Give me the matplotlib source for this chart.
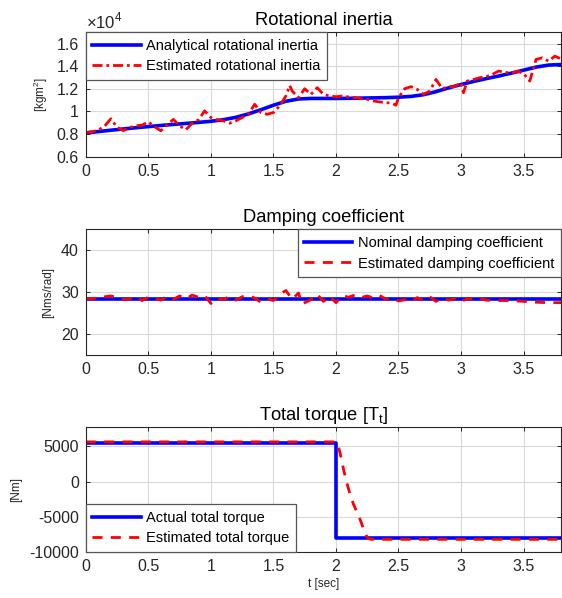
import matplotlib
matplotlib.use('Agg')
import matplotlib.pyplot as plt

plt.rcParams['font.family'] = ['Liberation Sans', 'DejaVu Sans']
plt.rcParams['mathtext.fontset'] = 'custom'
plt.rcParams['mathtext.rm'] = 'Liberation Sans'
plt.rcParams['axes.unicode_minus'] = False

# ---- data ----
# rotational inertia
t_J = [0.0, 0.1, 0.2, 0.3, 0.4, 0.5, 0.6, 0.7, 0.8, 0.9, 1.0, 1.1, 1.2, 1.3,
       1.4, 1.5, 1.6, 1.7, 1.8, 1.9, 2.0, 2.1, 2.2, 2.3, 2.4, 2.5, 2.6, 2.7,
       2.8, 2.9, 3.0, 3.1, 3.2, 3.3, 3.4, 3.5, 3.6, 3.7, 3.8]
J_analytical = [8100, 8220, 8340, 8450, 8560, 8660, 8760, 8850, 8940, 9030,
                9130, 9270, 9480, 9780, 10150, 10550, 10900, 11100, 11150,
                11150, 11150, 11160, 11180, 11200, 11220, 11260, 11330, 11480,
                11750, 12080, 12380, 12650, 12900, 13130, 13380, 13650, 13920,
                14100, 14150]

t_J_est = [0.00, 0.05, 0.10, 0.15, 0.20, 0.25, 0.30, 0.35, 0.40, 0.45, 0.50,
           0.55, 0.60, 0.65, 0.70, 0.75, 0.80, 0.85, 0.90, 0.95, 1.00, 1.05,
           1.10, 1.15, 1.20, 1.25, 1.30, 1.35, 1.40, 1.45, 1.50, 1.55, 1.60,
           1.63, 1.65, 1.70, 1.75, 1.80, 1.85, 1.90, 1.95, 2.00, 2.05, 2.10,
           2.15, 2.20, 2.25, 2.30, 2.35, 2.40, 2.45, 2.48, 2.50, 2.55, 2.60,
           2.65, 2.70, 2.75, 2.80, 2.85, 2.90, 2.95, 3.00, 3.02, 3.05, 3.10,
           3.15, 3.20, 3.25, 3.30, 3.35, 3.40, 3.45, 3.50, 3.55, 3.60, 3.65,
           3.70, 3.75, 3.80]
J_estimated = [8140, 8200, 8350, 8700, 9350, 8600, 8300, 8580, 8730, 8790,
               9080, 8640, 8290, 8790, 9300, 8730, 8380, 8960, 9250, 10050,
               9460, 9250, 9170, 8960, 9170, 9460, 9750, 10630, 9900, 9750,
               9900, 10490, 11370, 12300, 11800, 11220, 12010, 11510, 12100,
               11510, 11370, 11300, 11370, 11280, 11220, 11130, 11070, 10930,
               10840, 10780, 10720, 10550, 11220, 12010, 12190, 11950, 11510,
               11800, 12830, 12010, 12190, 12190, 12540, 11660, 12690, 12830,
               12980, 13070, 13270, 13570, 13480, 13360, 13570, 13360, 12690,
               14600, 14740, 14450, 14890, 14650]

# damping coefficient
t_B = [0.0, 3.8]
B_nominal = [28.4, 28.4]
t_B_est = [0.00, 0.05, 0.10, 0.15, 0.20, 0.25, 0.30, 0.35, 0.40, 0.45, 0.50,
           0.55, 0.60, 0.65, 0.70, 0.75, 0.80, 0.85, 0.90, 0.95, 1.00, 1.05,
           1.10, 1.15, 1.20, 1.25, 1.30, 1.35, 1.40, 1.45, 1.50, 1.55, 1.60,
           1.65, 1.70, 1.73, 1.80, 1.85, 1.90, 1.95, 2.00, 2.05, 2.10, 2.15,
           2.20, 2.25, 2.30, 2.35, 2.40, 2.45, 2.50, 2.55, 2.60, 2.65, 2.70,
           2.75, 2.80, 2.85, 2.90, 2.95, 3.00, 3.05, 3.10, 3.15, 3.20, 3.30,
           3.40, 3.50, 3.60, 3.70, 3.80]
B_estimated = [28.5, 28.5, 28.6, 28.9, 29.1, 28.7, 28.2, 28.4, 28.9, 28.0,
               28.8, 28.5, 28.1, 29.0, 28.3, 29.1, 28.4, 29.3, 28.8, 29.2,
               27.3, 28.6, 28.2, 29.0, 28.1, 28.9, 29.2, 28.6, 27.6, 28.4,
               28.0, 29.5, 30.4, 28.3, 29.8, 27.2, 28.2, 29.5, 27.8, 29.0,
               27.5, 29.2, 28.8, 29.3, 28.7, 29.1, 28.6, 29.2, 28.3, 28.6,
               27.9, 28.2, 27.8, 28.7, 28.0, 28.9, 27.8, 28.5, 28.1, 28.4,
               27.7, 28.5, 28.2, 28.6, 28.1, 28.0, 28.0, 27.8, 27.6, 27.5, 27.5]

# total torque
t_T = [0.0, 2.0, 2.0, 3.8]
T_actual = [5500, 5500, -8000, -8000]
t_T_est = [0.0, 2.00, 2.02, 2.04, 2.06, 2.08, 2.10, 2.12, 2.14, 2.16, 2.18,
           2.20, 2.22, 2.24, 2.26, 2.28, 3.8]
T_estimated = [5650, 5650, 5000, 3500, 1800, 300, -1000, -2200, -3200, -4000,
               -4800, -5700, -6700, -7600, -8100, -8200, -8200]

xticks = [0, 0.5, 1, 1.5, 2, 2.5, 3, 3.5]
xtick_labels = ['0', '0.5', '1', '1.5', '2', '2.5', '3', '3.5']

DARK = '#262626'
GRID = '#d9d9d9'
BLUE = (0, 0, 1)
RED = (1, 0, 0)


def style_axes(ax):
    ax.set_xlim(0, 3.8)
    ax.set_xticks(xticks)
    ax.set_xticklabels(xtick_labels)
    ax.grid(True, color=GRID, linewidth=0.8)
    ax.set_axisbelow(True)
    ax.tick_params(direction='in', length=3, width=0.7, colors=DARK,
                   labelsize=11.5, top=True, right=True, pad=5)
    for s in ax.spines.values():
        s.set_color(DARK)
        s.set_linewidth(0.8)


def style_legend(leg):
    fr = leg.get_frame()
    fr.set_edgecolor('#555555')
    fr.set_linewidth(0.9)
    fr.set_alpha(1)


fig = plt.figure(figsize=(5.62, 5.98), dpi=100)
left, width = 0.1527, 0.8456

# ---- rotational inertia ----
ax1 = fig.add_axes([left, 0.738, width, 0.208])
ax1.plot(t_J, J_analytical, color=BLUE, linewidth=2.6,
         label='Analytical rotational inertia')
ax1.plot(t_J_est, J_estimated, color=RED, linewidth=2.0,
         dashes=(3.6, 1.4, 1.0, 1.4), label='Estimated rotational inertia')
style_axes(ax1)
ax1.set_ylim(6000, 17000)
ax1.set_yticks([6000, 8000, 10000, 12000, 14000, 16000])
ax1.set_yticklabels(['0.6', '0.8', '1', '1.2', '1.4', '1.6'])
ax1.set_ylabel(r'[kgm$^\mathregular{2}$]', fontsize=8.5, color=DARK, labelpad=5)
ax1.set_title('Rotational inertia', fontsize=13.2, color='black', pad=5)
ax1.text(0.0, 1.01, r'$\times$10$^\mathregular{4}$', transform=ax1.transAxes,
         fontsize=12, color=DARK, ha='left', va='bottom')
leg1 = ax1.legend(loc='upper left', bbox_to_anchor=(0, 1), borderaxespad=0,
                  fontsize=10.5, handlelength=3.3, handletextpad=0.4,
                  borderpad=0.45, labelspacing=0.45, fancybox=False)
style_legend(leg1)

# ---- damping coefficient ----
ax2 = fig.add_axes([left, 0.4064, width, 0.210])
ax2.plot(t_B, B_nominal, color=BLUE, linewidth=2.6,
         label='Nominal damping coefficient')
ax2.plot(t_B_est, B_estimated, color=RED, linewidth=2.0, dashes=(3.6, 3.0),
         label='Estimated damping coefficient')
style_axes(ax2)
ax2.set_ylim(15, 45)
ax2.set_yticks([20, 30, 40])
ax2.set_ylabel('[Nms/rad]', fontsize=8.5, color=DARK, labelpad=5)
ax2.set_title('Damping coefficient', fontsize=13.2, color='black', pad=5)
leg2 = ax2.legend(loc='upper right', bbox_to_anchor=(1, 1), borderaxespad=0,
                  fontsize=10.5, handlelength=3.3, handletextpad=0.4,
                  borderpad=0.45, labelspacing=0.45, fancybox=False)
style_legend(leg2)

# ---- total torque ----
ax3 = fig.add_axes([left, 0.0769, width, 0.2095])
ax3.plot(t_T, T_actual, color=BLUE, linewidth=2.6, label='Actual total torque')
ax3.plot(t_T_est, T_estimated, color=RED, linewidth=2.0, dashes=(3.6, 3.0),
         label='Estimated total torque')
style_axes(ax3)
ax3.set_ylim(-10000, 7800)
ax3.set_yticks([-10000, -5000, 0, 5000])
ax3.set_ylabel('[Nm]', fontsize=8.5, color=DARK, labelpad=5)
ax3.set_xlabel('t [sec]', fontsize=8.5, color=DARK, labelpad=3)
ax3.set_title(r'Total torque [T$_\mathregular{t}$]', fontsize=13.2,
              color='black', pad=5)
leg3 = ax3.legend(loc='lower left', bbox_to_anchor=(0, 0), borderaxespad=0,
                  fontsize=10.5, handlelength=3.3, handletextpad=0.4,
                  borderpad=0.45, labelspacing=0.45, fancybox=False)
style_legend(leg3)

fig.savefig('out.png', dpi=100)
